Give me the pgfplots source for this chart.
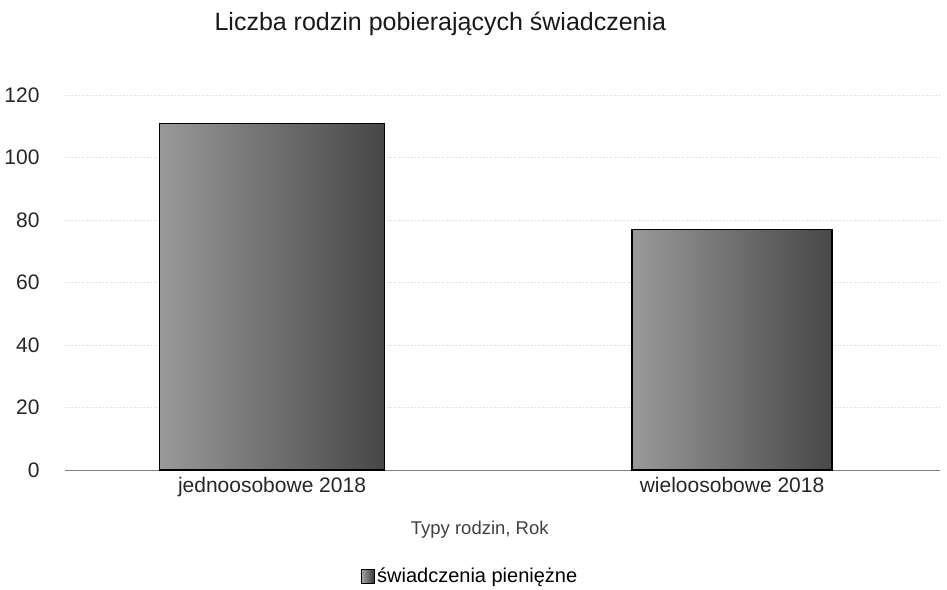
\documentclass[border=0pt]{standalone}
\usepackage{pgfplots}
\pgfplotsset{compat=1.18}
\usepackage{fontspec}
\setmainfont{Liberation Sans}
\begin{document}
\begin{tikzpicture}[x=1pt,y=1pt]
\useasboundingbox (0,0) rectangle (947,589);
\begin{axis}[
  at={(65pt,119pt)}, anchor=south west,
  scale only axis, width=875pt, height=375pt,
  xmin=-0.45, xmax=1.452, ymin=0, ymax=120,
  xtick={0,1}, xticklabels={jednoosobowe 2018, wieloosobowe 2018},
  ytick={0,20,...,120},
  axis x line*=bottom, axis y line*=left,
  x axis line style={gray, -},
  y axis line style={draw=none},
  major tick length=0pt,
  ymajorgrids, grid style={gray!30, dotted},
  tick label style={font=\fontsize{21}{24}\selectfont, text=black!85},
  yticklabel style={anchor=east, xshift=-22pt},
  xticklabel style={yshift=-4pt},
  /pgf/number format/assume math mode=true,
  title={Liczba rodzin pobierających świadczenia},
  title style={at={(0.429,1.173)}, anchor=center, font=\fontsize{25}{29}\selectfont, text=black!90},
  xlabel={Typy rodzin, Rok},
  xlabel style={at={(axis description cs:0.474,-0.16)}, anchor=center, font=\fontsize{18.5}{22}\selectfont, text=black!75},
  legend style={at={(0.463,-0.283)}, anchor=center, draw=none, font=\fontsize{20}{24}\selectfont, legend cell align=left},
  legend image code/.code={\draw[draw=black, left color=black!35, right color=black!80] (0pt,-7pt) rectangle (13pt,7pt);},
]
\addplot[ybar, bar width=225pt, bar shift=0pt, draw=black, line width=1.2pt, left color=black!40, middle color=black!50, right color=black!72]
  coordinates {(0,111)};
\addlegendentry{świadczenia pieniężne}
\addplot[ybar, bar width=200pt, bar shift=0pt, draw=black, line width=1.2pt, left color=black!40, middle color=black!50, right color=black!72, forget plot]
  coordinates {(1,77)};
\end{axis}
\end{tikzpicture}
\end{document}
